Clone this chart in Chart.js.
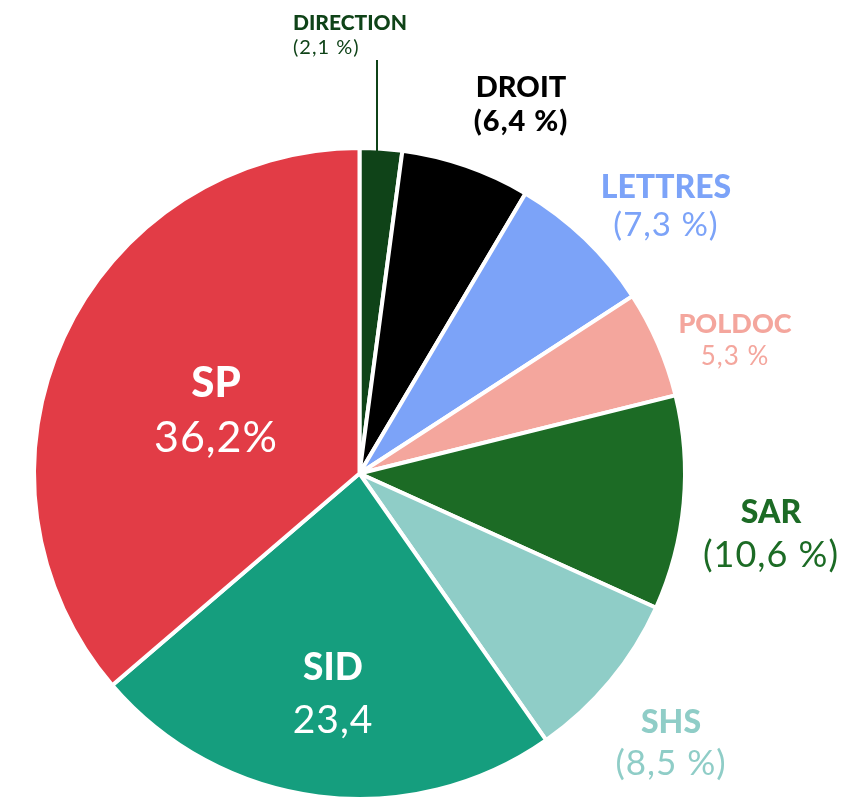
<!DOCTYPE html>
<html>
<head>
<meta charset="utf-8">
<script src="https://cdn.jsdelivr.net/npm/chart.js@4/dist/chart.umd.min.js"></script>
<style>
  html, body { margin: 0; padding: 0; background: #fff; }
  #wrap { width: 856px; height: 801px; }
</style>
</head>
<body>
<div id="wrap"><canvas id="pie"></canvas></div>
<script>
// data (share in %, clockwise from the top)
const categories = ['DIRECTION', 'DROIT', 'LETTRES', 'POLDOC', 'SAR', 'SHS', 'SID', 'SP'];
const shares = [2.1, 6.4, 7.3, 5.3, 10.6, 8.5, 23.4, 36.2];
const valueLabels = ['(2,1 %)', '(6,4 %)', '(7,3 %)', '5,3 %', '(10,6 %)', '(8,5 %)', '23,4', '36,2%'];

const sliceColors = ['#0f4318', '#000000', '#7ca3f8', '#f4a69d', '#1c6b25', '#8fcdc7', '#159e7e', '#e23c46'];
const textColors = ['#0f4318', '#000000', '#7ca3f8', '#f4a69d', '#1c6b25', '#8fcdc7', '#ffffff', '#ffffff'];

// label placement: x, name baseline, value baseline, name size, value size, value weight, align
const labelLayout = [
  { x: 293, y1: 30, y2: 54, s1: 21, s2: 20, w2: 400, align: 'left' },
  { x: 521, y1: 97, y2: 131, s1: 29, s2: 29, w2: 900, align: 'center' },
  { x: 666, y1: 198, y2: 236, s1: 32, s2: 33, w2: 400, align: 'center' },
  { x: 735, y1: 333, y2: 365, s1: 27, s2: 26, w2: 400, align: 'center' },
  { x: 771, y1: 523, y2: 567, s1: 32, s2: 36, w2: 400, align: 'center' },
  { x: 671, y1: 733, y2: 775, s1: 32, s2: 35, w2: 400, align: 'center' },
  { x: 333, y1: 680, y2: 733, s1: 37, s2: 39, w2: 400, align: 'center' },
  { x: 216, y1: 397, y2: 452, s1: 42, s2: 43, w2: 400, align: 'center' }
];

const sliceLabels = {
  id: 'sliceLabels',
  afterDraw(chart) {
    const ctx = chart.ctx;
    ctx.save();
    // leader line for the thin DIRECTION slice
    ctx.strokeStyle = textColors[0];
    ctx.lineWidth = 2;
    ctx.beginPath();
    ctx.moveTo(377, 60);
    ctx.lineTo(377, 152);
    ctx.stroke();

    labelLayout.forEach((l, i) => {
      ctx.fillStyle = textColors[i];
      ctx.textAlign = l.align;
      ctx.textBaseline = 'alphabetic';
      ctx.letterSpacing = '0px';
      ctx.font = '900 ' + l.s1 + 'px Lato';
      ctx.fillText(categories[i], l.x, l.y1);
      ctx.letterSpacing = '1px';
      ctx.font = l.w2 + ' ' + l.s2 + 'px Lato';
      ctx.fillText(valueLabels[i], l.x, l.y2);
    });
    ctx.restore();
  }
};

new Chart(document.getElementById('pie'), {
  type: 'pie',
  data: {
    labels: categories,
    datasets: [{
      data: shares,
      backgroundColor: sliceColors,
      borderColor: '#ffffff',
      borderWidth: 4
    }]
  },
  options: {
    responsive: true,
    maintainAspectRatio: false,
    animation: false,
    layout: { padding: { left: 31, right: 168, top: 146, bottom: -2 } },
    plugins: {
      legend: { display: false },
      tooltip: { enabled: false }
    }
  },
  plugins: [sliceLabels]
});
</script>
</body>
</html>
